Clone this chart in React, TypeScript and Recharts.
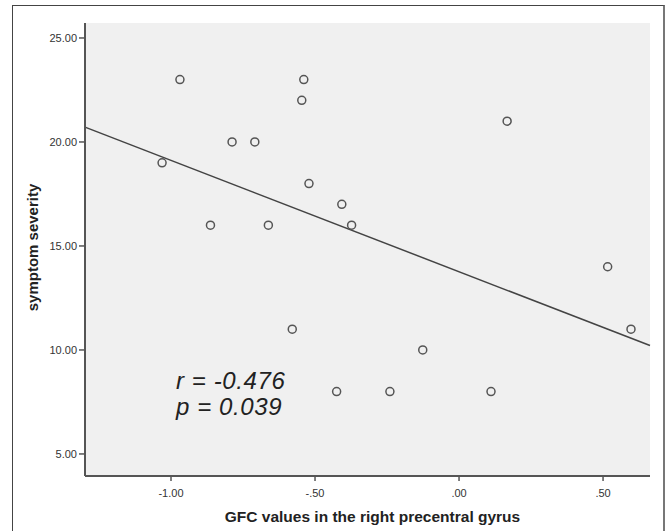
import React from "react";
import { CartesianGrid, Label, ReferenceLine, Scatter, ScatterChart, XAxis, YAxis } from "recharts";

// GFC values (x) and symptom severity (y)
const gfcValues = [
  -1.031, -0.969, -0.863, -0.788, -0.709, -0.662, -0.579, -0.539, -0.546, -0.521,
  -0.407, -0.373, -0.425, -0.24, -0.126, 0.111, 0.167, 0.516, 0.597,
];
const severity = [19, 23, 16, 20, 20, 16, 11, 23, 22, 18, 17, 16, 8, 8, 10, 8, 21, 14, 11];

const xTicks = [-1, -0.5, 0, 0.5];
const yTicks = [5, 10, 15, 20, 25];
const xDomain: [number, number] = [-1.2986, 0.663];
const yDomain: [number, number] = [3.94, 25.72];

const statLines = ["r = -0.476", "p = 0.039"];

const points = gfcValues.map((x, i) => ({ x, y: severity[i] }));

// ordinary least squares fit line
function fitLine(xs: number[], ys: number[]) {
  const n = xs.length;
  const mx = xs.reduce((a, b) => a + b, 0) / n;
  const my = ys.reduce((a, b) => a + b, 0) / n;
  let sxy = 0;
  let sxx = 0;
  xs.forEach((x, i) => {
    sxy += (x - mx) * (ys[i] - my);
    sxx += (x - mx) * (x - mx);
  });
  const slope = sxy / sxx;
  return { slope, intercept: my - slope * mx };
}

const fit = fitLine(gfcValues, severity);

function formatX(v: number) {
  const s = Math.abs(v).toFixed(2);
  const body = Math.abs(v) < 1 ? s.slice(1) : s;
  return v < 0 ? `-${body}` : body;
}

const FONT = "'Liberation Sans', Arial, sans-serif";
const tickStyle = { fill: "#333", fontSize: 11, fontFamily: FONT };

function XTitle({ viewBox }: any) {
  return (
    <text
      x={viewBox.x + viewBox.width / 2 + 5}
      y={522}
      textAnchor="middle"
      fontFamily={FONT}
      fontWeight="bold"
      fontSize={15.5}
      fill="#222"
    >
      GFC values in the right precentral gyrus
    </text>
  );
}

function YTitle({ viewBox }: any) {
  const cx = 32;
  const cy = viewBox.y + viewBox.height / 2 - 2;
  return (
    <text
      x={cx}
      y={cy}
      transform={`rotate(-90 ${cx} ${cy})`}
      textAnchor="middle"
      dominantBaseline="central"
      fontFamily={FONT}
      fontWeight="bold"
      fontSize={15}
      fill="#222"
    >
      symptom severity
    </text>
  );
}

function Ring(props: any) {
  return <circle cx={props.cx} cy={props.cy} r={4} fill="none" stroke="#555" strokeWidth={1.5} />;
}

export default function App() {
  return (
    <div style={{ position: "absolute", left: 0, top: 0, width: 667, height: 531, overflow: "hidden", background: "#fff" }}>
      <div
        style={{
          position: "absolute",
          left: 12,
          top: 5,
          width: 650,
          height: 540,
          borderTop: "1px solid #444",
          borderLeft: "1px solid #444",
          borderRight: "2px solid #777",
        }}
      />
      <div style={{ position: "absolute", left: 0, top: 0 }}>
        <ScatterChart width={667} height={531} margin={{ top: 23, right: 17, bottom: 0, left: 0 }}>
          <CartesianGrid fill="#f0f0f0" stroke="none" horizontal={false} vertical={false} />
          <XAxis
            type="number"
            dataKey="x"
            domain={xDomain}
            ticks={xTicks}
            tickFormatter={formatX}
            allowDataOverflow
            height={55}
            tick={tickStyle}
            tickSize={5}
            tickMargin={8}
            axisLine={{ stroke: "#555", strokeWidth: 2 }}
            tickLine={{ stroke: "#555", strokeWidth: 1.5 }}
          >
            <Label content={<XTitle />} />
          </XAxis>
          <YAxis
            type="number"
            dataKey="y"
            domain={yDomain}
            ticks={yTicks}
            tickFormatter={(v: number) => v.toFixed(2)}
            allowDataOverflow
            width={85}
            tick={tickStyle}
            tickSize={6}
            tickMargin={2}
            axisLine={{ stroke: "#555", strokeWidth: 2 }}
            tickLine={{ stroke: "#555", strokeWidth: 1.5 }}
          >
            <Label content={<YTitle />} />
          </YAxis>
          <ReferenceLine
            segment={[
              { x: xDomain[0], y: fit.intercept + fit.slope * xDomain[0] },
              { x: xDomain[1], y: fit.intercept + fit.slope * xDomain[1] },
            ]}
            stroke="#444"
            strokeWidth={1.5}
            ifOverflow="visible"
          />
          <Scatter data={points} shape={<Ring />} isAnimationActive={false} />
        </ScatterChart>
      </div>
      <div
        style={{
          position: "absolute",
          left: 176,
          top: 368,
          fontFamily: FONT,
          fontStyle: "italic",
          fontSize: 24,
          letterSpacing: 0.6,
          lineHeight: "26px",
          color: "#222",
          whiteSpace: "pre",
        }}
      >
        {statLines.map((l) => (
          <div key={l}>{l}</div>
        ))}
      </div>
    </div>
  );
}
